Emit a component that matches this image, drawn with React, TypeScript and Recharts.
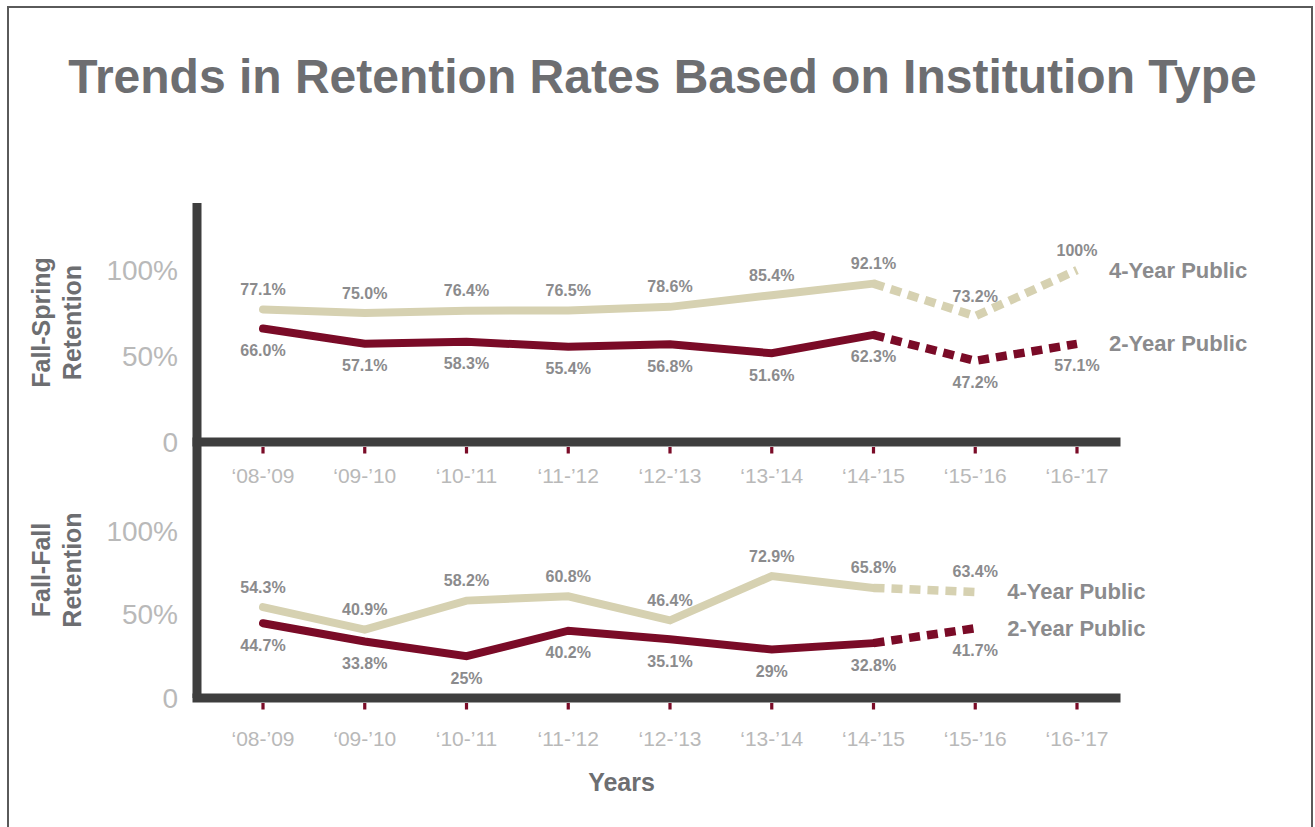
import React from "react";
import { LineChart, Line, XAxis, YAxis } from "recharts";

const years = ["‘08-’09", "‘09-’10", "‘10-’11", "‘11-’12", "‘12-’13", "‘13-’14", "‘14-’15", "‘15-’16", "‘16-’17"];

const springFourYear = [77.1, 75.0, 76.4, 76.5, 78.6, 85.4, 92.1, 73.2, 100];
const springTwoYear = [66.0, 57.1, 58.3, 55.4, 56.8, 51.6, 62.3, 47.2, 57.1];
const springFourLabels = ["77.1%", "75.0%", "76.4%", "76.5%", "78.6%", "85.4%", "92.1%", "73.2%", "100%"];
const springTwoLabels = ["66.0%", "57.1%", "58.3%", "55.4%", "56.8%", "51.6%", "62.3%", "47.2%", "57.1%"];

const fallFourYear = [54.3, 40.9, 58.2, 60.8, 46.4, 72.9, 65.8, 63.4, null];
const fallTwoYear = [44.7, 33.8, 25, 40.2, 35.1, 29, 32.8, 41.7, null];
const fallFourLabels = ["54.3%", "40.9%", "58.2%", "60.8%", "46.4%", "72.9%", "65.8%", "63.4%", ""];
const fallTwoLabels = ["44.7%", "33.8%", "25%", "40.2%", "35.1%", "29%", "32.8%", "41.7%", ""];

const seriesNames = ["4-Year Public", "2-Year Public"];
const yTicks = [0, 50, 100];
// '14-'15 onward is drawn dashed
const projectedFrom = 6;

const FONT = '"Liberation Sans", Arial, Helvetica, sans-serif';
const BEIGE = "#d6d1b1";
const MAROON = "#7a0b27";
const AXIS = "#3e3e3e";
const TICK_GRAY = "#b9b9b9";
const LABEL_GRAY = "#8b8b8d";
const TITLE_GRAY = "#6d6e71";

type Val = number | null;

const buildRows = (four: Val[], two: Val[]) =>
  years.map((year, i) => ({
    year,
    four: four[i],
    two: two[i],
    fourSolid: i <= projectedFrom ? four[i] : null,
    fourDash: i >= projectedFrom ? four[i] : null,
    twoSolid: i <= projectedFrom ? two[i] : null,
    twoDash: i >= projectedFrom ? two[i] : null,
  }));

const lastIndex = (vals: Val[]) => {
  let last = -1;
  vals.forEach((v, i) => {
    if (v != null) last = i;
  });
  return last;
};

const makeValueLabel =
  (values: Val[], texts: string[], name: string, dy: number) => (props: any) => {
    const { cx, cy, index } = props;
    if (values[index] == null || cx == null || cy == null) return <g key={`${name}-${index}`} />;
    return (
      <g key={`${name}-${index}`}>
        <text
          x={cx}
          y={cy + dy}
          textAnchor="middle"
          dominantBaseline="central"
          fontFamily={FONT}
          fontWeight="bold"
          fontSize={16}
          fill={LABEL_GRAY}
        >
          {texts[index]}
        </text>
        {index === lastIndex(values) && (
          <text
            x={cx + 32}
            y={cy}
            dominantBaseline="central"
            fontFamily={FONT}
            fontWeight="bold"
            fontSize={22}
            fill={LABEL_GRAY}
          >
            {name}
          </text>
        )}
      </g>
    );
  };

const makeTick = (labelDy: number) => (props: any) => {
  const { x, y, payload } = props;
  return (
    <g>
      <rect x={x - 1.6} y={y + 5} width={3.2} height={6.5} fill={MAROON} />
      <text
        x={x}
        y={y + labelDy}
        textAnchor="middle"
        dominantBaseline="central"
        fontFamily={FONT}
        fontSize={21}
        fill={TICK_GRAY}
      >
        {payload.value}
      </text>
    </g>
  );
};

function AxisTitle({ viewBox, lines }: any) {
  const cy = viewBox ? viewBox.y + viewBox.height / 2 : 0;
  const xs = [41, 72];
  return (
    <g>
      {lines.map((t: string, i: number) => (
        <text
          key={t}
          x={xs[i]}
          y={cy}
          transform={`rotate(-90, ${xs[i]}, ${cy})`}
          textAnchor="middle"
          dominantBaseline="central"
          fontFamily={FONT}
          fontWeight="bold"
          fontSize={25}
          fill={TITLE_GRAY}
        >
          {t}
        </text>
      ))}
    </g>
  );
}

function YearsTitle({ viewBox }: any) {
  const x = viewBox ? viewBox.x + viewBox.width / 2 - 35 : 623;
  const y = viewBox ? viewBox.y + 84 : 782;
  return (
    <text x={x} y={y} textAnchor="middle" dominantBaseline="central" fontFamily={FONT} fontWeight="bold" fontSize={25} fill={TITLE_GRAY}>
      Years
    </text>
  );
}

interface PanelProps {
  four: Val[];
  two: Val[];
  fourLabels: string[];
  twoLabels: string[];
  yMax: number;
  titleLines: string[];
  height: number;
  margin: { top: number; right: number; bottom: number; left: number };
  axisHeight: number;
  tickDy: number;
  showYears?: boolean;
}

function Panel({ four, two, fourLabels, twoLabels, yMax, titleLines, height, margin, axisHeight, tickDy, showYears }: PanelProps) {
  const rows = buildRows(four, two);
  return (
    <LineChart width={1315} height={height} data={rows} margin={margin}>
      <XAxis
        dataKey="year"
        interval={0}
        padding={{ left: 66, right: 39 }}
        axisLine={{ stroke: AXIS, strokeWidth: 9, strokeLinecap: "square" }}
        tickLine={false}
        tickSize={0}
        tickMargin={0}
        tick={makeTick(tickDy)}
        height={axisHeight}
        label={showYears ? <YearsTitle /> : undefined}
      />
      <YAxis
        width={197}
        domain={[0, yMax]}
        ticks={yTicks}
        axisLine={{ stroke: AXIS, strokeWidth: 9 }}
        tickLine={false}
        tickSize={0}
        tickMargin={19}
        tickFormatter={(v) => (v === 0 ? "0" : `${v}%`)}
        tick={{ fill: TICK_GRAY, fontSize: 28, fontFamily: FONT }}
        label={<AxisTitle lines={titleLines} />}
      />
      <Line dataKey="fourSolid" stroke={BEIGE} strokeWidth={8} strokeLinecap="round" dot={false} activeDot={false} isAnimationActive={false} />
      <Line dataKey="fourDash" stroke={BEIGE} strokeWidth={8.5} strokeDasharray="11 7" dot={false} activeDot={false} isAnimationActive={false} />
      <Line dataKey="twoSolid" stroke={MAROON} strokeWidth={8} strokeLinecap="round" dot={false} activeDot={false} isAnimationActive={false} />
      <Line dataKey="twoDash" stroke={MAROON} strokeWidth={8.5} strokeDasharray="11 7" dot={false} activeDot={false} isAnimationActive={false} />
      <Line dataKey="four" stroke="none" dot={makeValueLabel(four, fourLabels, seriesNames[0], -20)} activeDot={false} isAnimationActive={false} />
      <Line dataKey="two" stroke="none" dot={makeValueLabel(two, twoLabels, seriesNames[1], 22)} activeDot={false} isAnimationActive={false} />
    </LineChart>
  );
}

export default function App() {
  return (
    <div style={{ position: "absolute", left: 0, top: 0, width: 1315, height: 827, overflow: "hidden", background: "#fff", fontFamily: FONT }}>
      <div style={{ position: "absolute", left: 7, top: 6, width: 1306, height: 900, border: "2.6px solid #5a5a5a", boxSizing: "border-box" }} />
      <div
        style={{
          position: "absolute",
          left: 5,
          top: 53,
          width: 1315,
          textAlign: "center",
          fontSize: 48,
          lineHeight: "48px",
          fontWeight: "bold",
          color: TITLE_GRAY,
          whiteSpace: "nowrap",
        }}
      >
        Trends in Retention Rates Based on Institution Type
      </div>
      <div style={{ position: "absolute", left: 0, top: 190 }}>
        <Panel
          four={springFourYear}
          two={springTwoYear}
          fourLabels={springFourLabels}
          twoLabels={springTwoLabels}
          yMax={139}
          titleLines={["Fall-Spring", "Retention"]}
          height={300}
          margin={{ top: 13, right: 199, bottom: 8, left: 0 }}
          axisHeight={40}
          tickDy={33}
        />
      </div>
      <div style={{ position: "absolute", left: 0, top: 430 }}>
        <Panel
          four={fallFourYear}
          two={fallTwoYear}
          fourLabels={fallFourLabels}
          twoLabels={fallTwoLabels}
          yMax={153}
          titleLines={["Fall-Fall", "Retention"]}
          height={397}
          margin={{ top: 12, right: 199, bottom: 29, left: 0 }}
          axisHeight={100}
          tickDy={40}
          showYears
        />
      </div>
    </div>
  );
}
